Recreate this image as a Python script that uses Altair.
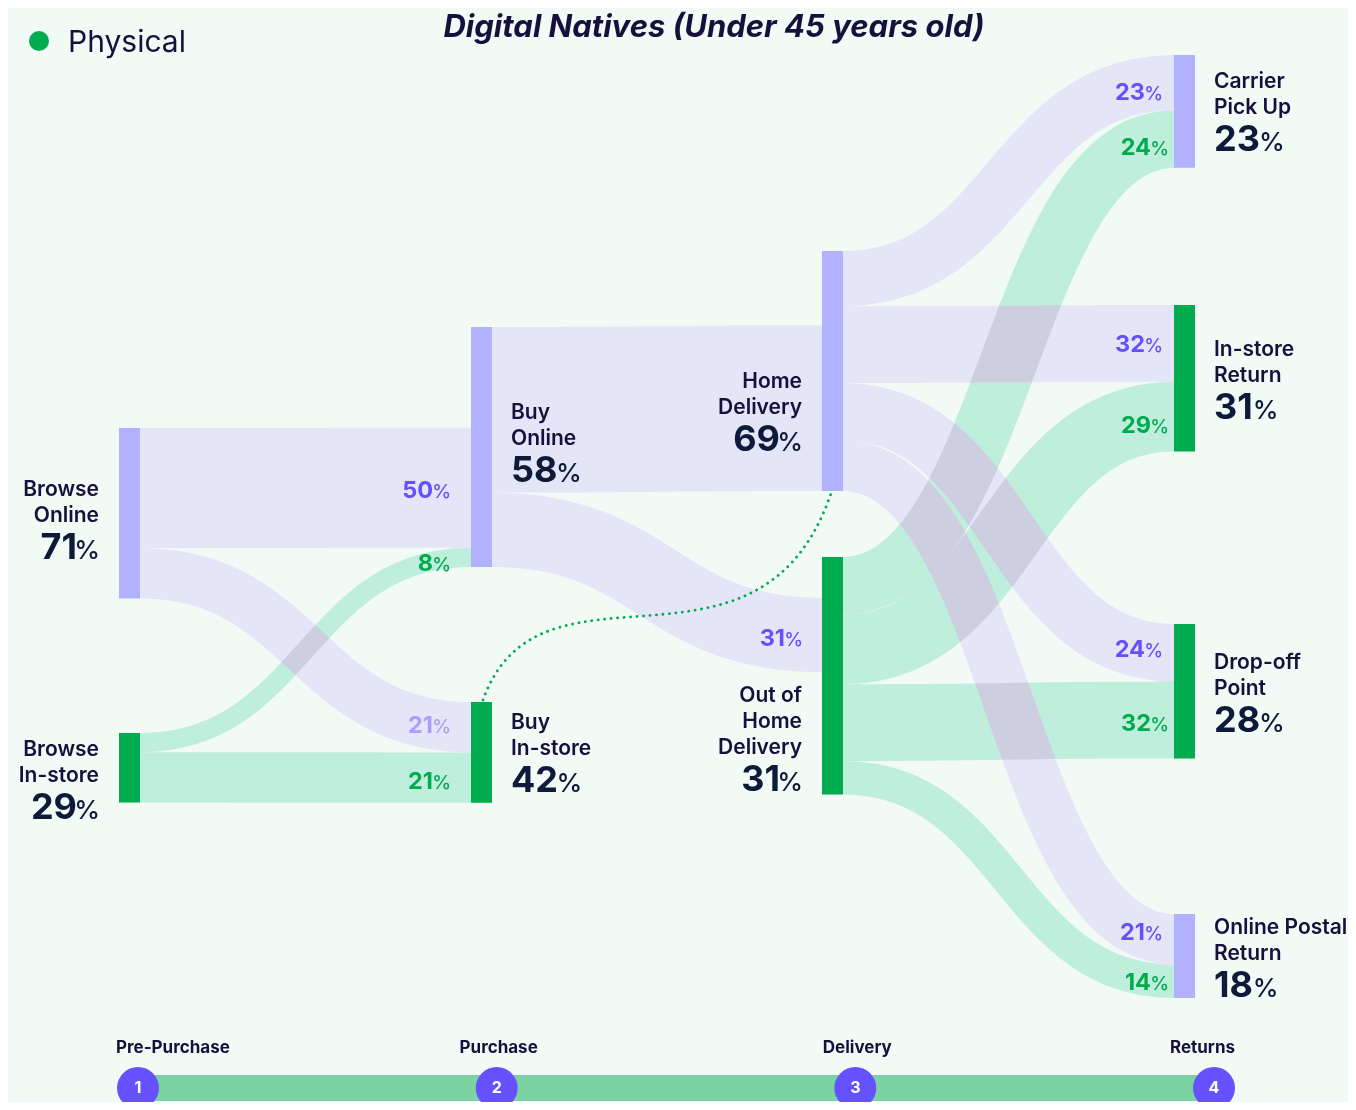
import altair as alt
import numpy as np
import pandas as pd

# ---------------- data ----------------
TITLE = "Digital Natives (Under 45 years old)"
LEGEND_LABELS = ["Digital", "Physical"]
STAGES = ["Pre-Purchase", "Purchase", "Delivery", "Returns"]

NODE_IDS = ["BO", "BI", "PO", "PI", "HD", "OD", "CP", "IR", "DP", "OP"]
NODE_LINES = [["Browse", "Online"], ["Browse", "In-store"], ["Buy", "Online"], ["Buy", "In-store"],
              ["Home", "Delivery"], ["Out of", "Home", "Delivery"], ["Carrier", "Pick Up"],
              ["In-store", "Return"], ["Drop-off", "Point"], ["Online Postal", "Return"]]
NODE_PCT = [71, 29, 58, 42, 69, 31, 23, 31, 28, 18]
NODE_STAGE = [0, 0, 1, 1, 2, 2, 3, 3, 3, 3]
NODE_TYPE = ["Digital", "Physical", "Digital", "Physical", "Digital", "Physical",
             "Digital", "Physical", "Physical", "Digital"]

LINK_SRC = ["BO", "BO", "BI", "BI", "PO", "PO", "HD", "HD", "HD", "HD", "OD", "OD", "OD", "OD"]
LINK_TGT = ["PO", "PI", "PO", "PI", "HD", "OD", "CP", "IR", "DP", "OP", "CP", "IR", "DP", "OP"]
LINK_PCT = [50, 21, 8, 21, 69, 31, 23, 32, 24, 21, 24, 29, 32, 14]
LINK_SHOW = [True, True, True, True, False, True, True, True, True, True, True, True, True, True]
LINK_MUTED = [False, True, False, False, False, False, False, False, False, False, False, False, False, False]
CONNECTOR = ("PI", "HD")

# ---------------- layout & style ----------------
K = 2.4                      # px per percentage point
NODE_W = 21
STAGE_X = [119, 471, 822, 1174]
NODE_TOP = dict(BO=428, BI=733, PO=327, PI=702, HD=251, OD=557, CP=55, IR=305, DP=624, OP=914)
IN_OFFSET = dict(PO="bottom", HD="bottom", OD=17)
LABEL_SHIFT = dict(BO=4, BI=9, PO=-7, PI=-2, HD=38, OD=73, CP=-2, IR=-1, DP=-1, OP=-1)
LINK_LABEL_DY = [2, -3, 4.6, 2.4, 0, 2, 8.5, -0.4, -4, -7.5, 7.7, 7.4, 2, 0.5]
TL_X = (138, 1214)
TL_Y = 1088
FONT = "Inter"

BG = "#f2faf5"
NAVY = "#16103d"
NUMC = "#0e1a3a"
LAV_NODE = "#b1b1fd"
GRN_NODE = "#00ac4f"
LAV_LINK = "#f1ecff"      # multiplied onto the background -> pale lavender
LAV_TINT = "#e5e7f8"      # lavender hue re-applied with 'color' blend (greys the crossings)
GRN_LINK = "#bfeedd"
PURPLE = "#6450ff"
LIGHT_PURPLE = "#a99dff"
GREEN_TXT = "#00ab4e"
TL_BAR = "#7bd3a4"
TL_DOT = "#6551ff"
TYPE_NODE_COLOR = {"Digital": LAV_NODE, "Physical": GRN_NODE}

DIGIT_W = {'0': 0.59, '1': 0.40, '2': 0.58, '3': 0.59, '4': 0.60, '5': 0.58,
           '6': 0.59, '7': 0.55, '8': 0.59, '9': 0.59}

XS = alt.Scale(domain=[8, 1348], nice=False, zero=False)
YS = alt.Scale(domain=[8, 1102], reverse=True, nice=False, zero=False)


def X(f="x"):
    return alt.X(f"{f}:Q", scale=XS, axis=None)


def Y(f="y"):
    return alt.Y(f"{f}:Q", scale=YS, axis=None)


# ---------------- layout computation ----------------
stage = dict(zip(NODE_IDS, NODE_STAGE))
ntype = dict(zip(NODE_IDS, NODE_TYPE))
in_tot = {n: 0 for n in NODE_IDS}
out_tot = {n: 0 for n in NODE_IDS}
for s, t, v in zip(LINK_SRC, LINK_TGT, LINK_PCT):
    out_tot[s] += v
    in_tot[t] += v
h_units = {n: max(in_tot[n], out_tot[n]) for n in NODE_IDS}

out_cur = {n: NODE_TOP[n] for n in NODE_IDS}
in_cur = {}
for n in NODE_IDS:
    off = IN_OFFSET.get(n, 0)
    if off == "bottom":
        in_cur[n] = NODE_TOP[n] + (h_units[n] - in_tot[n]) * K
    else:
        in_cur[n] = NODE_TOP[n] + off * K

ts = np.linspace(0, 1, 70)
link_rows = []
link_lab = []
for i, (s, t, v) in enumerate(zip(LINK_SRC, LINK_TGT, LINK_PCT)):
    w = v * K
    y0 = out_cur[s] + w / 2
    out_cur[s] += w
    y1 = in_cur[t] + w / 2
    in_cur[t] += w
    x0 = STAGE_X[stage[s]] + NODE_W - 1
    x1 = STAGE_X[stage[t]] + 1
    xm = (x0 + x1) / 2
    for tt in ts:
        a, b, c, d = (1 - tt) ** 3, 3 * (1 - tt) ** 2 * tt, 3 * (1 - tt) * tt ** 2, tt ** 3
        link_rows.append(dict(link=i, t=tt, x=a * x0 + b * xm + c * xm + d * x1,
                              y=a * y0 + b * y0 + c * y1 + d * y1, w=v, kind=ntype[s]))
    if LINK_SHOW[i]:
        digital = ntype[s] == "Digital"
        if stage[t] == 3:
            gap = 11 if digital else 5
        elif stage[t] == 2:
            gap = 19
        else:
            gap = 20
        rx = STAGE_X[stage[t]] - gap
        col = (LIGHT_PURPLE if LINK_MUTED[i] else PURPLE) if digital else GREEN_TXT
        base = y1 + LINK_LABEL_DY[i] + 8.6
        link_lab.append(dict(num=str(v), x=rx, y=base, c=col))

links = pd.DataFrame(link_rows)

sw = alt.StrokeWidth("w:Q", scale=alt.Scale(domain=[0, 100], range=[0, 100 * K]), legend=None)


def link_layer(df, color, blend=None):
    mk = dict(color=color, strokeCap="butt", interpolate="linear")
    if blend:
        mk["blend"] = blend
    return alt.Chart(df).mark_line(**mk).encode(
        x=X(), y=Y(), detail="link:N", order="t:Q", strokeWidth=sw)


green_df = links[links.kind == "Physical"]
lav_df = links[links.kind == "Digital"]
green_links = link_layer(green_df, GRN_LINK)
lav_links = link_layer(lav_df, LAV_LINK, "multiply")
lav_tint = link_layer(lav_df, LAV_TINT, "color")

# dotted connector between Buy In-store and Home Delivery
a_n, b_n = CONNECTOR
P0 = (STAGE_X[stage[a_n]] + NODE_W / 2 + 1.5, NODE_TOP[a_n] - 2)
P3 = (STAGE_X[stage[b_n]] + NODE_W / 2, NODE_TOP[b_n] + h_units[b_n] * K - 2)
P1 = (P0[0] + 57, P0[1] - 160)
P2 = (P3[0] - 70, P3[1] + 215)
crow = []
for tt in np.linspace(0, 1, 80):
    a, b, c, d = (1 - tt) ** 3, 3 * (1 - tt) ** 2 * tt, 3 * (1 - tt) * tt ** 2, tt ** 3
    crow.append(dict(t=tt, x=a * P0[0] + b * P1[0] + c * P2[0] + d * P3[0],
                     y=a * P0[1] + b * P1[1] + c * P2[1] + d * P3[1]))
connector = alt.Chart(pd.DataFrame(crow)).mark_line(
    color=GRN_NODE, strokeWidth=2.8, strokeDash=[0.1, 6.4], strokeCap="round").encode(
    x=X(), y=Y(), order="t:Q")

# nodes
node_rows = []
for n in NODE_IDS:
    x = STAGE_X[stage[n]]
    node_rows.append(dict(x=x, x2=x + NODE_W, y=NODE_TOP[n], y2=NODE_TOP[n] + h_units[n] * K,
                          c=TYPE_NODE_COLOR[ntype[n]]))
nodes = alt.Chart(pd.DataFrame(node_rows)).mark_rect().encode(
    x=X(), x2=alt.X2("x2:Q"), y=Y(), y2=alt.Y2("y2:Q"), color=alt.Color("c:N", scale=None))

# node labels
lines_r, lines_l, num_r, num_l, pct_r, pct_l = [], [], [], [], [], []
for n, lines, pct in zip(NODE_IDS, NODE_LINES, NODE_PCT):
    st = stage[n]
    right = st in (0, 2)
    anchor = NODE_TOP[n] + h_units[n] * K / 2 + LABEL_SHIFT[n]
    if right:
        lx = STAGE_X[st] - 20
    else:
        lx = STAGE_X[st] + NODE_W + 19
    nl = len(lines)
    for j, ln in enumerate(lines):
        yy = anchor - 1 - 26 * (nl - 1 - j)
        (lines_r if right else lines_l).append(dict(text=ln, x=lx, y=yy, c=NAVY))
    base = anchor + 42
    if right:
        pct_r.append(dict(text="%", x=lx + 1, y=base, c=NUMC))
        num_r.append(dict(text=str(pct), x=lx - 22, y=base, c=NUMC))
    else:
        wnum = sum(DIGIT_W[ch] for ch in str(pct)) * 36
        num_l.append(dict(text=str(pct), x=lx, y=base, c=NUMC))
        pct_l.append(dict(text="%", x=lx + wnum + 3, y=base, c=NUMC))


def text_layer(rows, **mk):
    return alt.Chart(pd.DataFrame(rows)).mark_text(font=FONT, **mk).encode(
        x=X(), y=Y(), text="text:N", color=alt.Color("c:N", scale=None))


txt = [
    text_layer(lines_r, fontSize=21, fontWeight=600, align="right", baseline="middle"),
    text_layer(lines_l, fontSize=21, fontWeight=600, align="left", baseline="middle"),
    text_layer(num_r, fontSize=36, fontWeight=700, align="right", baseline="alphabetic"),
    text_layer(num_l, fontSize=36, fontWeight=700, align="left", baseline="alphabetic"),
    text_layer(pct_r, fontSize=26, fontWeight=500, align="right", baseline="alphabetic"),
    text_layer(pct_l, fontSize=26, fontWeight=500, align="left", baseline="alphabetic"),
]

# link labels
ll_num = [dict(text=r["num"], x=r["x"] - 18, y=r["y"], c=r["c"]) for r in link_lab]
ll_pct = [dict(text="%", x=r["x"], y=r["y"], c=r["c"]) for r in link_lab]
txt += [
    text_layer(ll_num, fontSize=23.5, fontWeight=700, align="right", baseline="alphabetic"),
    text_layer(ll_pct, fontSize=19, fontWeight=500, align="right", baseline="alphabetic"),
]

# title
txt.append(text_layer([dict(text=TITLE, x=714, y=28, c=NAVY)], fontSize=31, fontWeight=700,
                      fontStyle="italic", align="center", baseline="middle"))

# legend
leg_cols = [LAV_NODE, GRN_NODE]
leg_dots = pd.DataFrame([dict(x=39, y=41 - 51 * (1 - i), c=leg_cols[i]) for i in range(2)])
legend_dots = alt.Chart(leg_dots).mark_circle(size=400, opacity=1).encode(
    x=X(), y=Y(), color=alt.Color("c:N", scale=None))
txt.append(text_layer([dict(text=LEGEND_LABELS[i], x=68, y=43 - 51 * (1 - i), c=NAVY) for i in range(2)],
                      fontSize=30, fontWeight=400, align="left", baseline="middle"))

# timeline
n_st = len(STAGES)
tl_xs = [TL_X[0] + i * (TL_X[1] - TL_X[0]) / (n_st - 1) for i in range(n_st)]
tl_bar = alt.Chart(pd.DataFrame([dict(x=tl_xs[0], x2=tl_xs[-1], y=TL_Y)])).mark_rule(
    strokeWidth=26, color=TL_BAR, strokeCap="butt").encode(x=X(), x2=alt.X2("x2:Q"), y=Y())
tl_dots = alt.Chart(pd.DataFrame([dict(x=x, y=TL_Y) for x in tl_xs])).mark_circle(
    size=1764, opacity=1, color=TL_DOT).encode(x=X(), y=Y())
txt.append(text_layer([dict(text=str(i + 1), x=tl_xs[i], y=TL_Y, c="#ffffff") for i in range(n_st)],
                      fontSize=16, fontWeight=700, align="center", baseline="middle"))
txt.append(text_layer([dict(text=STAGES[0], x=tl_xs[0] - 22, y=1048, c=NAVY)],
                      fontSize=17, fontWeight=700, align="left", baseline="middle"))
txt.append(text_layer([dict(text=STAGES[i], x=tl_xs[i] + 2, y=1048, c=NAVY) for i in range(1, n_st - 1)],
                      fontSize=17, fontWeight=700, align="center", baseline="middle"))
txt.append(text_layer([dict(text=STAGES[-1], x=tl_xs[-1] + 21, y=1048, c=NAVY)],
                      fontSize=17, fontWeight=700, align="right", baseline="middle"))

chart = alt.layer(
    green_links, lav_links, lav_tint, connector, nodes, legend_dots, tl_bar, tl_dots, *txt
).properties(
    width=1340, height=1094, padding=0, autosize=alt.AutoSizeParams(type="none"),
    background=BG
).configure_view(stroke=None)

chart.save("out.html", embed_options={"renderer": "svg", "actions": False})
